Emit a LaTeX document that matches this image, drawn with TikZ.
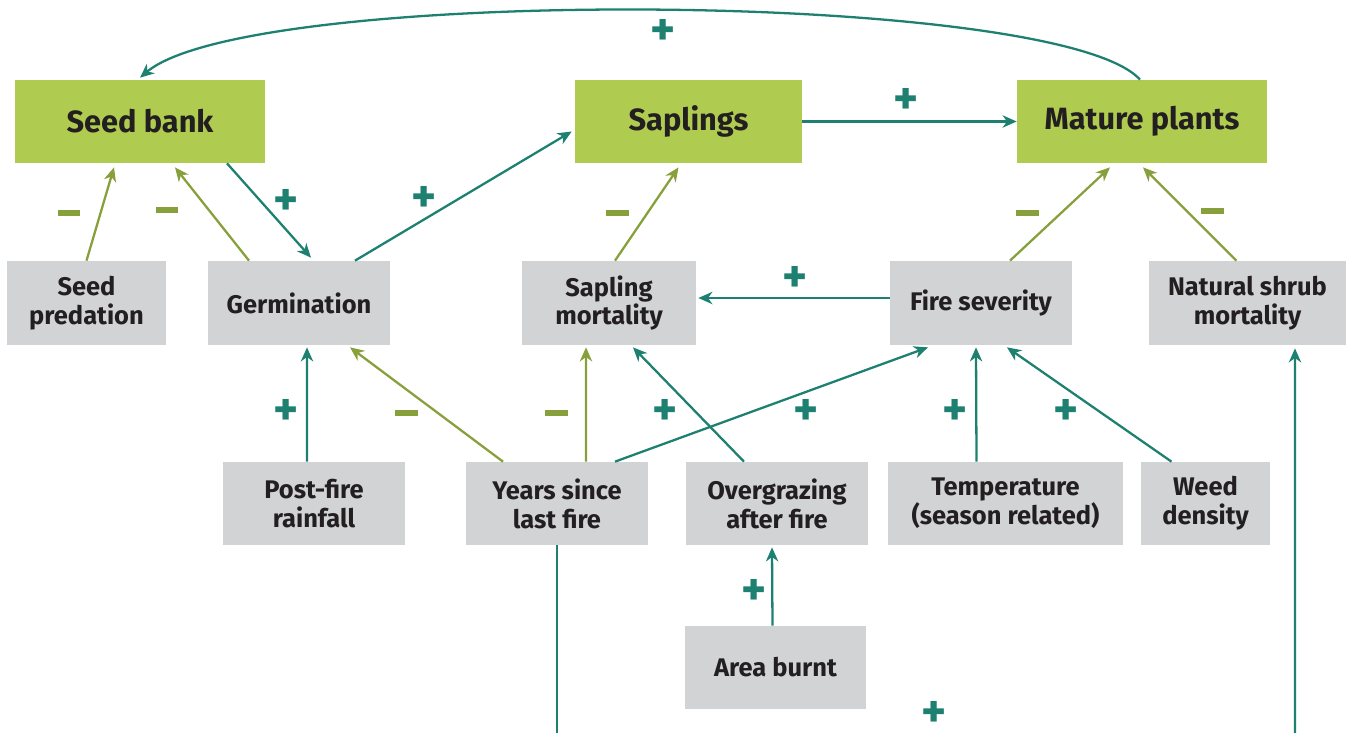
\documentclass[tikz,border=0pt]{standalone}
\usepackage{fontspec}
\setmainfont{Fira Sans}
\usepackage{tikz}
\usetikzlibrary{arrows.meta, positioning}

\definecolor{leaf}{RGB}{175,204,80}
\definecolor{boxgrey}{RGB}{209,211,212}
\definecolor{posteal}{RGB}{29,128,112}
\definecolor{negolive}{RGB}{136,160,60}
\definecolor{inkdark}{RGB}{35,31,32}

\begin{document}
\begin{tikzpicture}[
    x=0.02cm, y=-0.02cm,
    stock/.style={rectangle, fill=leaf, minimum width=5cm, minimum height=1.66cm, font=\fontsize{17.5}{20}\selectfont\bfseries, text=inkdark},
    factor/.style={rectangle, fill=boxgrey, align=center, minimum width=3.64cm, minimum height=1.68cm, font=\fontsize{14.5}{16.5}\selectfont\bfseries, text=inkdark},
    posline/.style={draw=posteal, line width=1.3pt, -{Stealth[length=8pt, width=7pt, inset=2.5pt]}},
    negline/.style={draw=negolive, line width=1.3pt, -{Stealth[length=8pt, width=7pt, inset=2.5pt]}},
    plus/.style={text=posteal, inner sep=0pt, font=\fontsize{27}{27}\selectfont\bfseries},
    minus/.style={fill=negolive, inner sep=0pt, minimum width=0.46cm, minimum height=0.12cm}
]
\useasboundingbox (0,0) rectangle (1350,733);

% ─── Stocks (green) ──────────────────────────────────────────────────
\node[stock] (seedbank) at (140,121.5) {Seed bank};
\node[stock, minimum width=4.54cm] (saplings) at (688.5,121.5) {Saplings};
\node[stock] (mature) at (1142,121.5) {Mature plants};

% ─── Middle row ──────────────────────────────────────────────────────
\node[factor, minimum width=3.18cm] (seedpred) at (86.5,303) {Seed\\predation};
\node[factor] (germ) at (299,303) {Germination};
\node[factor, minimum width=3.48cm] (saplmort) at (609,303) {Sapling\\mortality};
\node[factor] (firesev) at (981,303) {Fire severity};
\node[factor, minimum width=3.94cm] (shrubmort) at (1247.5,303) {Natural shrub\\mortality};

% ─── Bottom row ──────────────────────────────────────────────────────
\node[factor, minimum height=1.66cm] (rainfall) at (314,503.5) {Post-fire\\rainfall};
\node[factor, minimum height=1.66cm] (years) at (557,503.5) {Years since\\last fire};
\node[factor, minimum height=1.66cm] (overgraz) at (777,503.5) {Overgrazing\\after fire};
\node[factor, minimum height=1.66cm, minimum width=4.7cm] (temp) at (1005.5,503.5) {Temperature\\(season related)};
\node[factor, minimum height=1.66cm, minimum width=2.58cm] (weed) at (1205.5,503.5) {Weed\\density};
\node[factor, minimum height=1.66cm, minimum width=3.62cm] (area) at (775.5,667.5) {Area burnt};

% free ends below the frame
\coordinate (yearsdown) at (557,733);
\coordinate (shrubup) at (1295,733);

% ─── Links between stocks ────────────────────────────────────────────
\draw[posline] ([xshift=-0.04cm]mature.north) .. controls (1060,-10) and (250,-15) .. ([yshift=0.04cm]seedbank.north);
\draw[posline] (saplings.east) -- (mature.west);
\draw[posline] ([xshift=1.74cm]seedbank.south) -- ([xshift=0.24cm,yshift=0.06cm]germ.north);
\draw[posline] ([xshift=1.12cm]germ.north) -- ([xshift=-0.06cm,yshift=-0.2cm]saplings.west);

% ─── Negative links into stocks ──────────────────────────────────────
\draw[negline] (seedpred.north) -- ([xshift=-0.52cm,yshift=-0.08cm]seedbank.south);
\draw[negline] ([xshift=-1cm]germ.north) -- ([xshift=0.7cm,yshift=-0.08cm]seedbank.south);
\draw[negline] ([xshift=0.12cm]saplmort.north) -- ([xshift=-0.2cm,yshift=-0.08cm]saplings.south);
\draw[negline] ([xshift=0.58cm]firesev.north) -- ([xshift=-0.64cm,yshift=-0.08cm]mature.south);
\draw[negline] ([xshift=-0.22cm]shrubmort.north) -- ([xshift=0.02cm,yshift=-0.08cm]mature.south);

\draw[posline] ([yshift=0.1cm]firesev.west) -- ([xshift=0.04cm,yshift=0.1cm]saplmort.east);

% ─── Drivers from the bottom row ─────────────────────────────────────
\draw[posline] ([xshift=-0.14cm]rainfall.north) -- ([xshift=0.16cm,yshift=-0.04cm]germ.south);
\draw[negline] ([xshift=-1.08cm]years.north) -- ([xshift=1.02cm,yshift=-0.04cm]germ.south);
\draw[negline] ([xshift=0.58cm]years.north) -- ([xshift=-0.46cm,yshift=-0.04cm]saplmort.south);
\draw[posline] ([xshift=1.16cm]years.north) -- ([xshift=-1.06cm,yshift=-0.04cm]firesev.south);
\draw[posline] ([xshift=-0.66cm]overgraz.north) -- ([xshift=0.48cm,yshift=-0.04cm]saplmort.south);
\draw[posline] ([xshift=-0.58cm]temp.north) -- ([xshift=-0.1cm,yshift=-0.04cm]firesev.south);
\draw[posline] ([xshift=-0.68cm]weed.north) -- ([xshift=0.52cm,yshift=-0.04cm]firesev.south);
\draw[posline] ([xshift=-0.06cm]area.north) -- ([xshift=-0.1cm,yshift=-0.04cm]overgraz.south);

% runs off the bottom edge
\draw[posline, -] (years.south) -- (yearsdown);
\draw[posline] (shrubup) -- ([xshift=0.95cm,yshift=-0.06cm]shrubmort.south);

% ─── Signs ───────────────────────────────────────────────────────────
\node[plus] (p1) at (663,32) {+};
\node[plus] (p2) at (906,101) {+};
\node[plus] (p3) at (286,202) {+};
\node[plus] (p4) at (424,199) {+};
\node[plus] (p5) at (795,279) {+};
\node[plus] (p6) at (286,412) {+};
\node[plus] (p7) at (665,412) {+};
\node[plus] (p8) at (806,412) {+};
\node[plus] (p9) at (955,412) {+};
\node[plus] (p10) at (1066,412) {+};
\node[plus] (p11) at (754,592) {+};
\node[plus] (p12) at (934,714) {+};

\node[minus] (m1) at (69,213) {};
\node[minus] (m2) at (167,210) {};
\node[minus] (m3) at (617,213) {};
\node[minus] (m4) at (1027,213) {};
\node[minus] (m5) at (1212,211) {};
\node[minus] (m6) at (406,413) {};
\node[minus] (m7) at (556,413) {};

\end{tikzpicture}
\end{document}
